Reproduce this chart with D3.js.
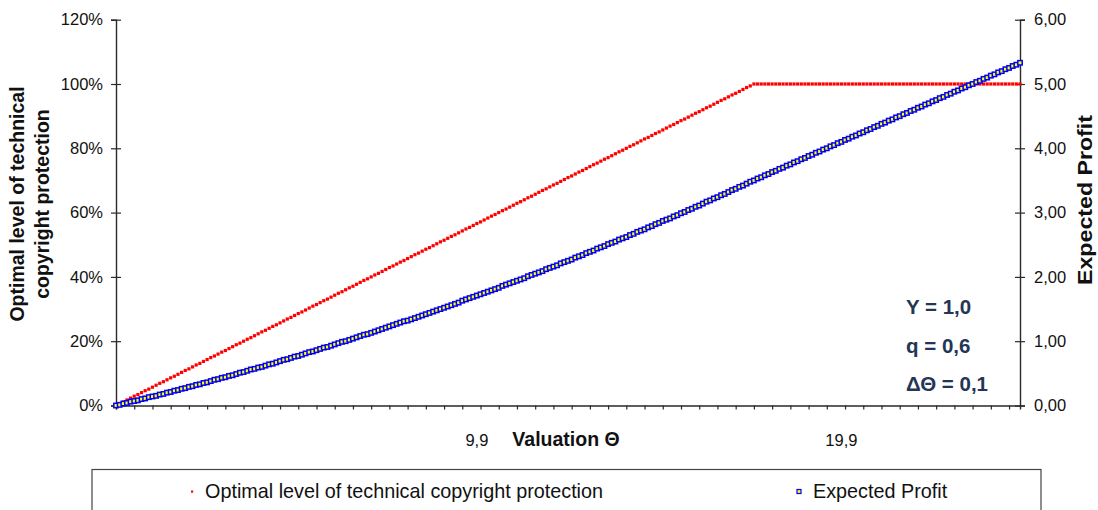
<!DOCTYPE html>
<html>
<head>
<meta charset="utf-8">
<script src="https://cdn.jsdelivr.net/npm/d3@7"></script>
<style>
  html, body { margin: 0; padding: 0; background: #fff; }
  svg { display: block; font-family: "Liberation Sans", Arial, sans-serif; }
</style>
</head>
<body>
<svg id="chart" width="1098" height="510"></svg>
<script>
// ---------------- DATA ----------------
// Valuation Θ categories: 0,0 ... 24,8 in steps of ΔΘ = 0,1
const thetaStart = 0.0;
const thetaStep = 0.1;
const thetaCount = 249;
const categories = d3.range(thetaCount).map(i => +(thetaStart + i * thetaStep).toFixed(1));

// x-axis tick labels shown
const xTickLabels = [9.9, 19.9];
const leftTicks = [0, 20, 40, 60, 80, 100, 120];   // %
const rightTicks = [0, 1, 2, 3, 4, 5, 6];

// Optimal level of technical copyright protection (%)
const protection = [0,
  0.6,1.1,1.7,2.3,2.9,3.4,4,
  4.6,5.1,5.7,6.3,6.9,7.4,8,
  8.6,9.1,9.7,10.3,10.9,11.4,12,
  12.6,13.1,13.7,14.3,14.9,15.4,16,
  16.6,17.1,17.7,18.3,18.9,19.4,20,
  20.6,21.1,21.7,22.3,22.9,23.4,24,
  24.6,25.1,25.7,26.3,26.9,27.4,28,
  28.6,29.1,29.7,30.3,30.9,31.4,32,
  32.6,33.1,33.7,34.3,34.9,35.4,36,
  36.6,37.1,37.7,38.3,38.9,39.4,40,
  40.6,41.1,41.7,42.3,42.9,43.4,44,
  44.6,45.1,45.7,46.3,46.9,47.4,48,
  48.6,49.1,49.7,50.3,50.9,51.4,52,
  52.6,53.1,53.7,54.3,54.9,55.4,56,
  56.6,57.1,57.7,58.3,58.9,59.4,60,
  60.6,61.1,61.7,62.3,62.9,63.4,64,
  64.6,65.1,65.7,66.3,66.9,67.4,68,
  68.6,69.1,69.7,70.3,70.9,71.4,72,
  72.6,73.1,73.7,74.3,74.9,75.4,76,
  76.6,77.1,77.7,78.3,78.9,79.4,80,
  80.6,81.1,81.7,82.3,82.9,83.4,84,
  84.6,85.1,85.7,86.3,86.9,87.4,88,
  88.6,89.1,89.7,90.3,90.9,91.4,92,
  92.6,93.1,93.7,94.3,94.9,95.4,96,
  96.6,97.1,97.7,98.3,98.9,99.4,100,
  100,100,100,100,100,100,100,100,100,100,
  100,100,100,100,100,100,100,100,100,100,
  100,100,100,100,100,100,100,100,100,100,
  100,100,100,100,100,100,100,100,100,100,
  100,100,100,100,100,100,100,100,100,100,
  100,100,100,100,100,100,100,100,100,100,
  100,100,100,100,100,100,100,100,100,100,
  100,100,100
];

// Expected Profit
const profit = [0,
  0.01,0.03,0.04,0.06,0.07,0.08,0.10,0.11,0.13,0.14,
  0.15,0.17,0.18,0.20,0.21,0.23,0.24,0.26,0.27,0.29,
  0.30,0.32,0.33,0.35,0.36,0.38,0.40,0.41,0.43,0.44,
  0.46,0.47,0.49,0.51,0.52,0.54,0.56,0.57,0.59,0.60,
  0.62,0.64,0.65,0.67,0.69,0.71,0.72,0.74,0.76,0.77,
  0.79,0.81,0.83,0.84,0.86,0.88,0.90,0.91,0.93,0.95,
  0.97,0.99,1.00,1.02,1.04,1.06,1.08,1.10,1.11,1.13,
  1.15,1.17,1.19,1.21,1.23,1.25,1.27,1.29,1.31,1.32,
  1.34,1.36,1.38,1.40,1.42,1.44,1.46,1.48,1.50,1.52,
  1.54,1.56,1.58,1.60,1.63,1.65,1.67,1.69,1.71,1.73,
  1.75,1.77,1.79,1.81,1.83,1.86,1.88,1.90,1.92,1.94,
  1.96,1.98,2.01,2.03,2.05,2.07,2.09,2.12,2.14,2.16,
  2.18,2.21,2.23,2.25,2.27,2.30,2.32,2.34,2.37,2.39,
  2.41,2.44,2.46,2.48,2.51,2.53,2.55,2.58,2.60,2.62,
  2.65,2.67,2.70,2.72,2.74,2.77,2.79,2.82,2.84,2.87,
  2.89,2.91,2.94,2.96,2.99,3.01,3.04,3.06,3.09,3.11,
  3.14,3.17,3.19,3.22,3.24,3.27,3.29,3.32,3.35,3.37,
  3.40,3.42,3.45,3.48,3.50,
  3.53,3.55,3.58,3.60,3.63,3.65,3.68,3.70,3.73,3.75,
  3.78,3.80,3.83,3.85,3.88,3.90,3.93,3.95,3.98,4.00,
  4.03,4.05,4.08,4.10,4.13,4.15,4.18,4.20,4.23,4.25,
  4.28,4.30,4.33,4.35,4.38,4.40,4.43,4.45,4.48,4.50,
  4.53,4.55,4.58,4.60,4.63,4.65,4.68,4.70,4.73,4.75,
  4.78,4.80,4.83,4.85,4.88,4.90,4.93,4.95,4.98,5.00,
  5.03,5.05,5.08,5.10,5.13,5.15,5.18,5.20,5.23,5.25,
  5.28,5.30,5.33
];

const annotations = ["Y = 1,0", "q = 0,6", "ΔΘ = 0,1"];
const seriesNames = ["Optimal level of technical copyright protection", "Expected Profit"];

// ---------------- CHART ----------------
const svg = d3.select("#chart");
const plot = { left: 116, right: 1020, top: 19.7, bottom: 405.5 };
const axisColor = "#2a2a2a";

const x = d3.scalePoint().domain(categories).range([plot.left, plot.right]).padding(0);
const yL = d3.scaleLinear().domain([0, 120]).range([plot.bottom, plot.top]);
const yR = d3.scaleLinear().domain([0, 6]).range([plot.bottom, plot.top]);

// Left axis
const gL = svg.append("g").attr("transform", `translate(${plot.left},0)`)
  .call(d3.axisLeft(yL).tickValues(leftTicks).tickFormat(d => d + "%").tickSizeOuter(0).tickSize(5).tickPadding(8));
gL.selectAll(".tick line").attr("x1", 5).attr("x2", -5);

// Right axis
const gR = svg.append("g").attr("transform", `translate(${plot.right},0)`)
  .call(d3.axisRight(yR).tickValues(rightTicks).tickFormat(d => d3.format(".2f")(d).replace(".", ",")).tickSizeOuter(0).tickSize(5).tickPadding(9));
gR.selectAll(".tick line").attr("x1", -5).attr("x2", 5);

// Bottom axis (minor ticks every 5 categories)
const tickCats = categories.filter((d, i) => i % 5 === 0);
const gB = svg.append("g").attr("transform", `translate(0,${plot.bottom})`)
  .call(d3.axisBottom(x).tickValues(tickCats).tickFormat("").tickSizeOuter(0).tickSize(4));

[gL, gR, gB].forEach(g => {
  g.select(".domain").attr("stroke", axisColor).attr("stroke-width", 1.4);
  g.selectAll(".tick line").attr("stroke", axisColor).attr("stroke-width", 1.2);
  g.selectAll(".tick text").attr("fill", "#111").style("font-size", "16.5px")
    .style("font-family", '"Liberation Sans", Arial, sans-serif');
});

// x tick labels
svg.append("g").selectAll("text").data(xTickLabels).join("text")
  .attr("x", d => x(d)).attr("y", 446)
  .attr("text-anchor", "middle")
  .style("font-size", "16.5px").attr("fill", "#111")
  .text(d => String(d).replace(".", ","));

// Axis titles
svg.append("text").attr("x", 566).attr("y", 446).attr("text-anchor", "middle")
  .style("font-size", "19.5px").style("font-weight", "bold").attr("fill", "#111")
  .text("Valuation Θ");

const lt = svg.append("text").attr("transform", "translate(0,204) rotate(-90)")
  .attr("text-anchor", "middle").style("font-size", "19.5px").style("font-weight", "bold").attr("fill", "#111");
lt.append("tspan").attr("x", 0).attr("y", 24).text("Optimal level of technical");
lt.append("tspan").attr("x", 0).attr("y", 49).text("copyright protection");

svg.append("text").attr("transform", "translate(1092,200) rotate(-90)")
  .attr("text-anchor", "middle").style("font-size", "19.5px").style("font-weight", "bold").attr("fill", "#111")
  .attr("textLength", 170).attr("lengthAdjust", "spacingAndGlyphs")
  .text("Expected Profit");

// Series: protection (red small squares)
svg.append("g").selectAll("rect").data(protection).join("rect")
  .attr("x", (d, i) => x(categories[i]) - 1.6)
  .attr("y", d => yL(d) - 1.6)
  .attr("width", 3.2).attr("height", 3.2)
  .attr("fill", "#ff0000");

// Series: profit (blue squares with yellow fill)
svg.append("g").selectAll("rect").data(profit).join("rect")
  .attr("x", (d, i) => x(categories[i]) - 2.2)
  .attr("y", d => yR(d) - 2.2)
  .attr("width", 4.4).attr("height", 4.4)
  .attr("fill", "#ffff00").attr("stroke", "#0000ff").attr("stroke-width", 1.5);

// Annotations
svg.append("g").selectAll("text").data(annotations).join("text")
  .attr("x", 906).attr("y", (d, i) => 314 + i * 38.5)
  .style("font-size", "20.5px").style("font-weight", "bold").attr("fill", "#233656")
  .text(d => d);

// Legend
svg.append("rect").attr("x", 92).attr("y", 469.5).attr("width", 949).attr("height", 60)
  .attr("fill", "none").attr("stroke", "#444").attr("stroke-width", 1.2);
svg.append("rect").attr("x", 191).attr("y", 490.5).attr("width", 2.2).attr("height", 2.2).attr("fill", "#ff0000");
svg.append("text").attr("x", 205).attr("y", 497.5).style("font-size", "19.8px").attr("fill", "#111").text(seriesNames[0]);
svg.append("rect").attr("x", 797).attr("y", 489.5).attr("width", 4).attr("height", 4)
  .attr("fill", "#ffff00").attr("stroke", "#0000ff").attr("stroke-width", 1.2);
svg.append("text").attr("x", 813).attr("y", 497.5).style("font-size", "19.8px").attr("fill", "#111").text(seriesNames[1]);
</script>
</body>
</html>
